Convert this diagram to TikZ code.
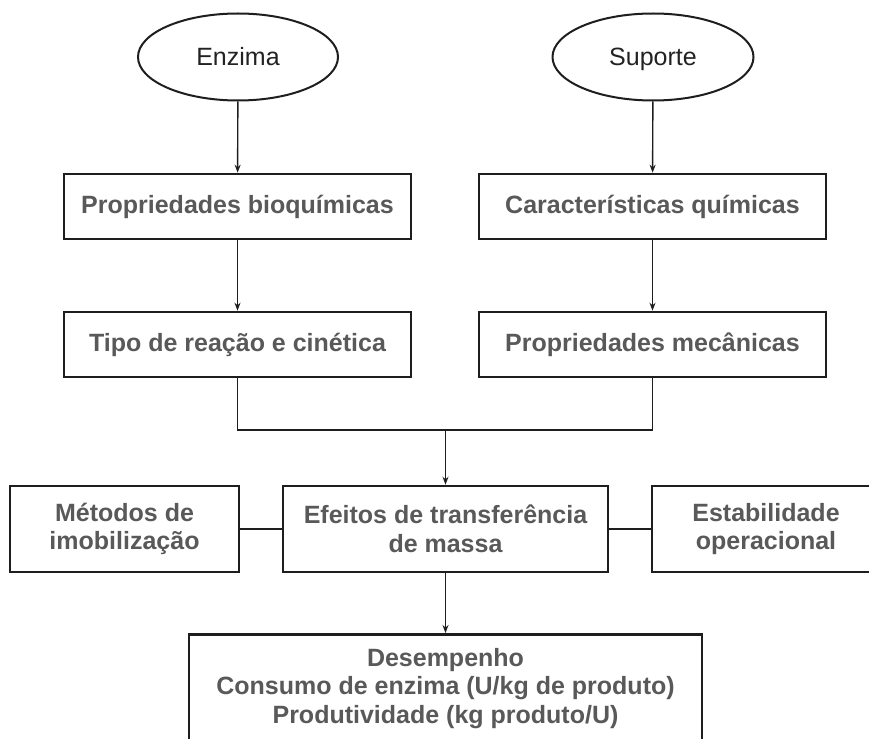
\documentclass[tikz,border=0pt]{standalone}
\usepackage{fontspec}
\setmainfont{Liberation Sans}
\usetikzlibrary{shapes.geometric,arrows.meta}
\definecolor{boxtext}{HTML}{595959}
\definecolor{elltext}{HTML}{222222}
\definecolor{edge}{HTML}{1E1E1E}
\begin{document}
\begin{tikzpicture}[x=1pt,y=-1pt,
  oval/.style={ellipse,draw=edge,line width=2pt,minimum width=200pt,minimum height=87pt,inner sep=0pt,
    text height=18pt,text depth=0pt,
    font=\fontsize{25}{28}\selectfont,text=elltext},
  stepbox/.style={rectangle,draw=edge,line width=2.6pt,minimum height=65pt,inner sep=0pt,
    font=\fontsize{25}{28.5}\selectfont\bfseries,text=boxtext,align=center},
  link/.style={draw=edge,line width=1.4pt},
  arr/.style={link,-{Stealth[length=8pt,width=6pt]}}]
\useasboundingbox (0,0) rectangle (869,738);
\fill[white] (0,0) rectangle (869,738);
\clip (0,0) rectangle (869,738);
\node[oval] (enz) at (238,57) {Enzima};
\node[oval,minimum width=201pt] (sup) at (653,57) {Suporte};
\node[stepbox,minimum width=347pt] (bioq) at (237.5,206.5) {Propriedades bioquímicas};
\node[stepbox,minimum width=347pt] (quim) at (652.5,206.5) {Características químicas};
\node[stepbox,minimum width=347pt] (tipo) at (237.5,344.5) {Tipo de reação e cinética};
\node[stepbox,minimum width=347pt] (mec) at (652.5,344.5) {Propriedades mecânicas};
\node[stepbox,minimum width=229pt,minimum height=86pt] (metod) at (124.5,529) {Métodos de\\imobilização};
\node[stepbox,minimum width=325pt,minimum height=86pt] (efeit) at (445.5,529) {Efeitos de transferência\\de massa};
\node[stepbox,minimum width=228pt,minimum height=86pt] (estab) at (766,529) {Estabilidade\\operacional};
\node[stepbox,minimum width=513pt,minimum height=160pt,anchor=north] (perf) at (445.5,633) {};
\node[font=\fontsize{25}{28.5}\selectfont\bfseries,text=boxtext,align=center,inner sep=0pt] (perftext) at (445.5,688.5)
  {Desempenho\\Consumo de enzima (U/kg de produto)\\Produtividade (kg produto/U)};
\coordinate (join) at (445.5,430);
\draw[arr] (enz) -- (bioq);
\draw[arr] (sup) -- (quim);
\draw[arr] (bioq) -- (tipo);
\draw[arr] (quim) -- (mec);
\draw[link] (tipo.south) |- (join) -| (mec.south);
\draw[arr] (join) -- (efeit);
\draw[link] (metod) -- (efeit);
\draw[link] (efeit) -- (estab);
\draw[arr] (efeit) -- (perf);
\end{tikzpicture}
\end{document}
